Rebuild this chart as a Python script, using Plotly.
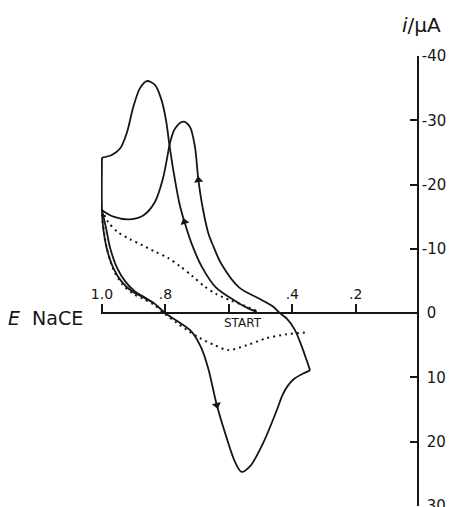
import math
import plotly.graph_objects as go

# Cyclic voltammogram: potential E vs NaCE (V), current i in µA
# (anodic current negative, drawn upward; potential decreasing to the right)

# first anodic sweep: start potential -> switching potential 1.0 V
SWEEP1_E = [0.512, 0.545, 0.580, 0.641, 0.685, 0.718, 0.740, 0.756, 0.775,
            0.788, 0.798, 0.812, 0.833, 0.859, 0.880, 0.901, 0.922, 0.943, 0.969, 1.000]
SWEEP1_I = [-0.2, -0.9, -1.9, -4.0, -7.2, -10.9, -14.2, -17.1, -22.2,
            -26.4, -30.0, -33.1, -35.5, -36.1, -35.0, -32.1, -28.0, -25.6, -24.6, -24.2]

# first cathodic sweep: 1.0 V -> lower switching potential
SWEEP2_E = [1.000, 1.000, 0.996, 0.985, 0.964, 0.938, 0.906, 0.875, 0.838, 0.799,
            0.759, 0.717, 0.688, 0.665, 0.638, 0.607, 0.581, 0.560, 0.533, 0.491,
            0.449, 0.431, 0.415, 0.395, 0.370, 0.344]
SWEEP2_I = [-24.2, -16.2, -13.2, -10.1, -7.0, -4.9, -3.4, -2.6, -1.6, 0.05,
            1.35, 2.9, 5.3, 8.6, 14.3, 19.4, 23.1, 24.7, 23.8, 20.1,
            15.1, 12.75, 11.35, 10.25, 9.5, 8.9]

# second anodic sweep back to 1.0 V
SWEEP3_E = [0.344, 0.355, 0.370, 0.392, 0.418, 0.439, 0.460, 0.502, 0.568, 0.623,
            0.648, 0.664, 0.681, 0.696, 0.707, 0.723, 0.744, 0.770, 0.786, 0.794,
            0.809, 0.833, 0.870, 0.912, 0.964, 1.000]
SWEEP3_I = [8.9, 7.3, 5.2, 2.6, 0.8, 0.0, -1.0, -2.2, -4.0, -7.6,
            -10.3, -12.3, -16.0, -20.7, -25.9, -29.0, -29.8, -28.7, -26.4, -24.3,
            -20.7, -17.3, -15.2, -14.6, -15.0, -16.0]

# second cathodic sweep (joins the first one)
SWEEP4_E = [1.000, 0.987, 0.974, 0.952, 0.926, 0.897, 0.870, 0.838]
SWEEP4_I = [-16.1, -13.2, -10.1, -7.0, -4.9, -3.4, -2.6, -1.6]

# background (supporting electrolyte) scan
BLANK_E = [0.514, 0.552, 0.596, 0.641, 0.678, 0.716, 0.754, 0.792, 0.830, 0.874,
           0.912, 0.950, 0.981, 1.000, 0.994, 0.983, 0.962, 0.936, 0.904, 0.873,
           0.836, 0.800, 0.764, 0.733, 0.691, 0.644, 0.602, 0.544, 0.481, 0.418, 0.360]
BLANK_I = [-0.4, -1.2, -2.0, -3.0, -4.2, -5.8, -7.3, -8.6, -9.5, -10.6,
           -11.5, -12.6, -14.2, -16.0, -12.8, -9.7, -6.6, -4.5, -3.1, -2.3,
           -1.3, 0.2, 1.5, 2.6, 3.9, 5.0, 5.75, 5.0, 3.9, 3.3, 3.0]

# scan-direction arrowheads: (sweep, index of the point carrying the arrow)
ARROWS = [(SWEEP1_E, SWEEP1_I, 6), (SWEEP3_E, SWEEP3_I, 13), (SWEEP2_E, SWEEP2_I, 14)]

X_TICKS = [1.0, 0.8, 0.6, 0.4, 0.2]
X_TICKTEXT = ["1.0", ".8", "", ".4", ".2"]
Y_TICKS = [-40, -30, -20, -10, 0, 10, 20, 30]
# positive labels get a narrow lead so their digits line up with the negative ones
Y_TICKTEXT = ["-40", "-30", "-20", "-10", "\u20040", "\u200410", "\u200420", "\u200430"]

W, H = 453, 507
ML, MR, MT, MB = 101, 36, 56, 1
X_RANGE = [1.003, 0.007]
Y_RANGE = [30, -40]

INK = "#161616"
FONT = "DejaVu Sans"

plot_w = W - ML - MR
plot_h = H - MT - MB
px_per_v = plot_w / (X_RANGE[0] - X_RANGE[1])
px_per_ua = plot_h / (Y_RANGE[0] - Y_RANGE[1])


def paper_xy(px, py):
    return (px - ML) / plot_w, (H - MB - py) / plot_h


fig = go.Figure()

for es, cs in [(SWEEP1_E, SWEEP1_I), (SWEEP2_E, SWEEP2_I),
               (SWEEP3_E, SWEEP3_I), (SWEEP4_E, SWEEP4_I)]:
    fig.add_trace(go.Scatter(x=es, y=cs, mode="lines",
                             line=dict(color=INK, width=1.8, shape="spline", smoothing=0.9),
                             hoverinfo="skip", showlegend=False))

fig.add_trace(go.Scatter(x=BLANK_E, y=BLANK_I, mode="lines",
                         line=dict(color=INK, width=2, dash="2px,4px",
                                   shape="spline", smoothing=0.8),
                         hoverinfo="skip", showlegend=False))

# arrowheads oriented along the local direction of the sweep
ax, ay, ang = [], [], []
for es, cs, k in ARROWS:
    dx = -(es[k + 1] - es[k - 1]) * px_per_v
    dy = (cs[k + 1] - cs[k - 1]) * px_per_ua
    ax.append(es[k])
    ay.append(cs[k])
    ang.append(math.degrees(math.atan2(dx, -dy)))

fig.add_trace(go.Scatter(x=ax, y=ay, mode="markers",
                         marker=dict(symbol="triangle-up", size=8, color=INK,
                                     angle=ang, line=dict(width=0)),
                         hoverinfo="skip", showlegend=False))

zero_pos = (0 - Y_RANGE[0]) / (Y_RANGE[1] - Y_RANGE[0])

fig.update_layout(
    width=W, height=H,
    margin=dict(l=ML, r=MR, t=MT, b=MB, pad=0, autoexpand=False),
    paper_bgcolor="white", plot_bgcolor="white",
    font=dict(family=FONT, color=INK),
    xaxis=dict(range=X_RANGE, anchor="free", position=zero_pos, side="top",
               automargin=False,
               showline=True, linecolor=INK, linewidth=1.5,
               ticks="outside", ticklen=8, tickwidth=1.5, tickcolor=INK,
               tickvals=X_TICKS, ticktext=X_TICKTEXT,
               tickfont=dict(family=FONT, size=14, color=INK),
               showgrid=False, zeroline=False),
    yaxis=dict(range=Y_RANGE, side="right", anchor="x", automargin=False,
               showline=True, linecolor=INK, linewidth=1.5,
               ticks="inside", ticklen=7, tickwidth=1.5, tickcolor=INK,
               tickvals=Y_TICKS, ticktext=Y_TICKTEXT, ticklabeloverflow="allow",
               tickfont=dict(family=FONT, size=15, color=INK),
               showgrid=False, zeroline=False),
)

lx, ly = paper_xy(421, 25)
fig.add_annotation(x=lx, y=ly, xref="paper", yref="paper", showarrow=False,
                   text="<i>i</i>/µA", font=dict(family=FONT, size=20, color=INK),
                   xanchor="center", yanchor="middle")

ex, ey = paper_xy(46, 317.5)
fig.add_annotation(x=ex, y=ey, xref="paper", yref="paper", showarrow=False,
                   text="<i>E</i>  NaCE", font=dict(family=FONT, size=19, color=INK),
                   xanchor="center", yanchor="middle")

fig.add_annotation(x=0.6, y=0, xref="x", yref="y", showarrow=False,
                   text="START", font=dict(family=FONT, size=12, color=INK),
                   xanchor="left", yanchor="top", xshift=-7, yshift=-1)

fig.write_html("out.html")
